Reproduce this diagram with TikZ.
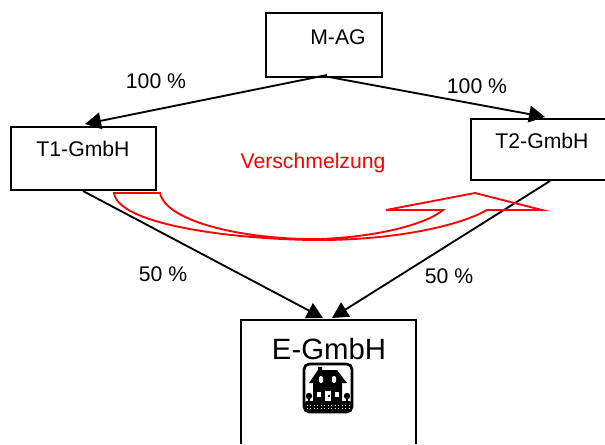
\documentclass[tikz,border=0pt]{standalone}
\usepackage{fontspec}
\setmainfont{Liberation Sans}
\usetikzlibrary{arrows.meta}
\tikzset{
  box/.style={draw=black,line width=1.5pt,fill=white,inner sep=0pt,anchor=north west},
  lbl/.style={font=\fontsize{15.9}{18}\selectfont,inner sep=0pt,text=black},
  link/.style={draw=black,line width=1.4pt,-{Triangle[length=12pt,width=12.5pt]}},
  redshape/.style={draw=red,line width=1.4pt,line join=miter},
}
\begin{document}
\begin{tikzpicture}[x=0.75pt,y=-0.75pt]
\useasboundingbox (0,0) rectangle (605,444);
\node[box,minimum width=87pt,minimum height=48pt] (mag) at (265,12) {};
\node[box,minimum width=108.75pt,minimum height=47.25pt] (t1) at (10,126) {};
\node[box,minimum width=110pt,minimum height=45.75pt] (t2) at (470,118) {};
\draw[black,line width=1.5pt] (241,444) -- (241,320) -- (416,320) -- (416,444);
\node[lbl] (magt) at (338,37) {M-AG};
\node[lbl] (t1t) at (83,149) {T1-GmbH};
\node[lbl] (t2t) at (542,141) {T2-GmbH};
\node[inner sep=0pt,font=\fontsize{22}{24}\selectfont] (et) at (329,349) {E-GmbH};
\node[lbl] (l1) at (156,81) {100 \%};
\node[lbl] (l2) at (477,86) {100 \%};
\node[lbl] (l3) at (163,274) {50 \%};
\node[lbl] (l4) at (449,276) {50 \%};
\node[lbl,text=red] (vs) at (313,163) {Verschmelzung};
% connectors
\coordinate (mb) at (327,75);
\coordinate (mb2) at (329,77);
\coordinate (t1a) at (85,124);
\coordinate (t2a) at (545,117);
\coordinate (t1b) at (83,191);
\coordinate (t2b) at (550,181);
\coordinate (ea) at (323,318);
\coordinate (eb) at (332,318);
\draw[link] (mb) -- (t1a);
\draw[link] (mb2) -- (t2a);
\draw[link] (t1b) -- (ea);
\draw[link] (t2b) -- (eb);
% red arrow
\draw[redshape] (114,193) -- (160,193)
  .. controls (166,222) and (245,240) .. (320,239)
  .. controls (375,237) and (425,225) .. (443,210)
  -- (386,210) -- (475,193) -- (542,210) -- (487,210)
  .. controls (455,228) and (385,241) .. (310,240)
  .. controls (215,238) and (118,222) .. (114,193) -- cycle;
% house icon
\draw[black,line width=2pt,rounded corners=4pt,fill=white] (304,364) rectangle (352,412);
\fill[black] (309,383) -- (318,370) -- (318,367) -- (322,367) -- (322,370) -- (337,370) -- (347,383) -- (342,383) -- (342,401) -- (313,401) -- (313,383) -- cycle;
\fill[white,rounded corners=1pt] (319,376) rectangle (323,383);
\fill[white,rounded corners=1pt] (332,376) rectangle (336,383);
\fill[white] (317,392) rectangle (321,397);
\fill[white] (335,392) rectangle (339,397);
\fill[white] (325,391) rectangle (331,401);
\fill[black] (328,395) rectangle (329.5,397);
\fill[black] (309,396) circle (2.4pt);
\fill[black] (347,396) circle (2.4pt);
\draw[black,line width=0.8pt] (309,398) -- (309,403);
\draw[black,line width=0.8pt] (347,398) -- (347,403);
\fill[black,rounded corners=2pt] (304,401) rectangle (352,412);
\draw[white,line width=0.6pt,dotted] (307,405) -- (349,405);
\draw[white,line width=0.6pt,dotted] (307,408) -- (349,408);
\end{tikzpicture}
\end{document}
